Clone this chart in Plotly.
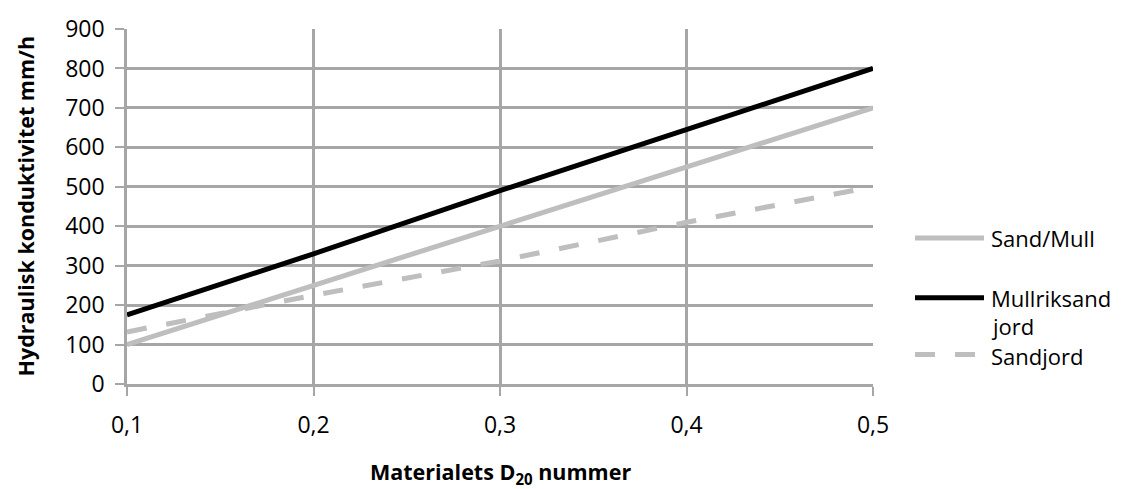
import plotly.graph_objects as go

x_vals = [0.1, 0.2, 0.3, 0.4, 0.5]
sand_mull = [100, 250, 400, 550, 700]
mullriksand_jord = [175, 330, 490, 645, 800]
sandjord = [132, 225, 312, 410, 500]

x_ticks = [0.1, 0.2, 0.3, 0.4, 0.5]
x_ticklabels = ["0,1", "0,2", "0,3", "0,4", "0,5"]
y_ticks = list(range(0, 1000, 100))

series_names = ["Sand/Mull", "Mullriksand jord", "Sandjord"]

FONT = "Open Sans"
GRID = "#A6A6A6"
LIGHT = "#BEBEBE"
LW = 5
DASH = "20px,20px"

fig = go.Figure()
fig.add_trace(go.Scatter(x=x_vals, y=sand_mull, mode="lines", name=series_names[0],
                         line=dict(color=LIGHT, width=LW)))
fig.add_trace(go.Scatter(x=x_vals, y=mullriksand_jord, mode="lines", name=series_names[1],
                         line=dict(color="#000000", width=LW)))
fig.add_trace(go.Scatter(x=x_vals, y=sandjord, mode="lines", name=series_names[2],
                         line=dict(color=LIGHT, width=LW, dash=DASH)))

# Plot area in pixels: left 127, right 873, top 22, bottom 384
def py(p):
    return (384 - p) / 362.0

def px(p):
    return (p - 127) / 746.0

legend_items = [
    (series_names[0], LIGHT, "solid", 235),
    (series_names[1], "#000000", "solid", 296),
    (series_names[2], LIGHT, DASH, 354),
]
shapes = []
annotations = []
for name, col, dash, ypix in legend_items:
    shapes.append(dict(type="line", xref="paper", yref="paper",
                       x0=px(915), x1=px(984), y0=py(ypix), y1=py(ypix),
                       line=dict(color=col, width=LW, dash=dash)))
label_lines = [("Sand/Mull", 235), ("Mullriksand", 296), ("jord", 325), ("Sandjord", 355)]
for txt, ypix in label_lines:
    annotations.append(dict(text=txt, xref="paper", yref="paper", x=px(989), y=py(ypix),
                            xanchor="left", yanchor="middle", showarrow=False,
                            font=dict(size=22, family=FONT, color="#000000")))

annotations += [
    dict(text="<b>Materialets D<sub>20</sub> nummer</b>", xref="paper", yref="paper",
         x=0.5, y=py(475), xanchor="center", yanchor="middle", showarrow=False,
         font=dict(size=21.5, family=FONT)),
    dict(text="<b>Hydraulisk konduktivitet mm/h</b>", xref="paper", yref="paper",
         x=px(25), y=0.5, xanchor="center", yanchor="middle", showarrow=False,
         textangle=-90, font=dict(size=21.5, family=FONT)),
]

fig.update_layout(
    width=1121, height=489,
    margin=dict(l=127, r=248, t=22, b=105),
    paper_bgcolor="white", plot_bgcolor="white",
    font=dict(family=FONT, size=23, color="#000000"),
    showlegend=False,
    xaxis=dict(range=[0.1, 0.5], tickvals=x_ticks, ticktext=x_ticklabels,
               showgrid=True, gridcolor=GRID, gridwidth=2.5,
               showline=True, linecolor=GRID, linewidth=2.5,
               ticks="outside", ticklen=9, tickcolor=GRID, tickwidth=2,
               zeroline=False, tickfont=dict(size=23), ticklabelstandoff=10),
    yaxis=dict(range=[0, 900], tickvals=y_ticks,
               showgrid=True, gridcolor=GRID, gridwidth=2.5,
               showline=True, linecolor=GRID, linewidth=2.5,
               ticks="outside", ticklen=9, tickcolor=GRID, tickwidth=2,
               zeroline=False, tickfont=dict(size=23), ticklabelstandoff=6),
    shapes=shapes,
    annotations=annotations,
)

fig.write_html("out.html")
